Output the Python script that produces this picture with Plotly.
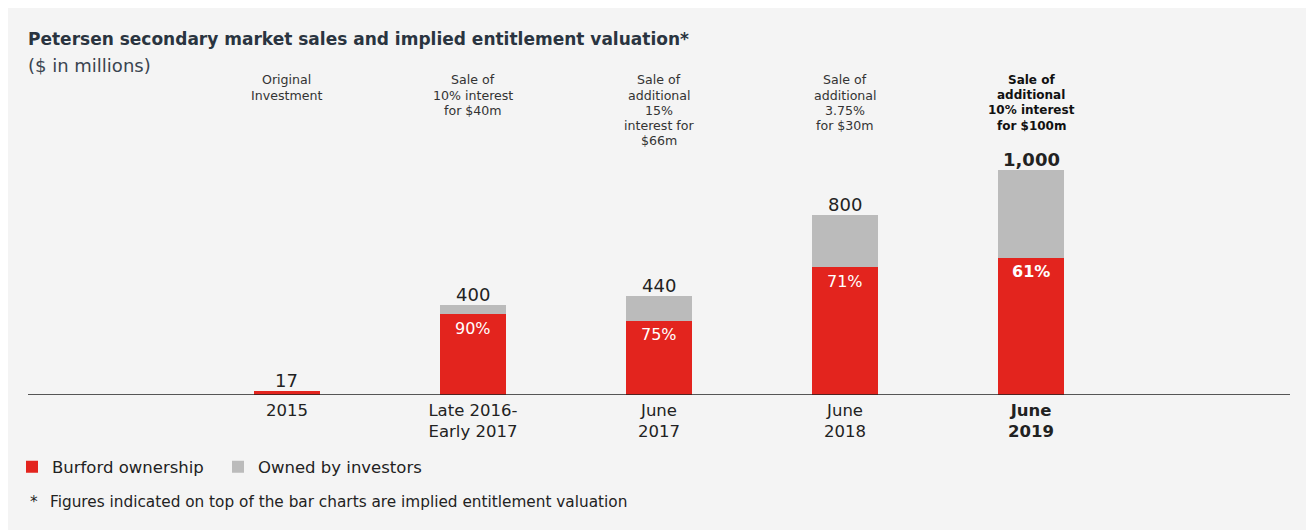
import plotly.graph_objects as go

categories = ["2015", "Late 2016-<br>Early 2017", "June<br>2017", "June<br>2018", "<b>June<br>2019</b>"]
totals = [17, 400, 440, 800, 1000]
burford_pct = [100, 90, 75, 71, 61]
total_labels = ["17", "400", "440", "800", "<b>1,000</b>"]
pct_labels = ["", "90%", "75%", "71%", "<b>61%</b>"]
top_notes = [
    ["Original", "Investment"],
    ["Sale of", "10% interest", "for $40m"],
    ["Sale of", "additional", "15%", "interest for", "$66m"],
    ["Sale of", "additional", "3.75%", "for $30m"],
    ["Sale of", "additional", "10% interest", "for $100m"],
]
note_bold = [False, False, False, False, True]

burford = [t * p / 100 for t, p in zip(totals, burford_pct)]
investors = [t - b for t, b in zip(totals, burford)]
xpos = list(range(len(categories)))

RED = "#e3241e"
GREY = "#bbbbbb"
BG = "#f4f4f4"
FONT = "DejaVu Sans"
TXT = "#222222"

# page body has an 8px margin; figure coords = screenshot coords - 8
W, H = 1306, 522
OFF = 8
PL, PR, PT, PB = 28, 1290, 60, 395  # plot area in screenshot pixels

def px_x(px):
    return (px - PL) / (PR - PL)

def px_y(py):
    return (PB - py) / (PB - PT)

def cx(px):
    return (px - OFF) / W

def cy(py):
    return 1 - (py - OFF) / H

fig = go.Figure()
fig.add_trace(go.Bar(x=xpos, y=burford, name="Burford ownership", marker_color=RED,
                     width=0.355, marker_line_width=0))
fig.add_trace(go.Bar(x=xpos, y=investors, name="Owned by investors", marker_color=GREY,
                     width=0.355, marker_line_width=0))

ann = []
for i in xpos:
    ann.append(dict(x=i, y=totals[i], xref="x", yref="y", text=total_labels[i],
                    showarrow=False, yanchor="middle", yshift=11,
                    font=dict(size=18, color=TXT, family=FONT)))
    if pct_labels[i]:
        ann.append(dict(x=i, y=burford[i], xref="x", yref="y", text=pct_labels[i],
                        showarrow=False, yanchor="middle", yshift=-14,
                        font=dict(size=16, color="white", family=FONT)))
    for k, line in enumerate(top_notes[i]):
        txt = f"<b>{line}</b>" if note_bold[i] else line
        ann.append(dict(x=i, y=px_y(80 + 15.2 * k), xref="x", yref="paper", text=txt,
                        showarrow=False, yanchor="middle",
                        font=dict(size=12 if note_bold[i] else 12.6,
                                  color="#111111" if note_bold[i] else "#333333", family=FONT)))

ann.append(dict(x=px_x(28), y=px_y(66), xref="paper", yref="paper", text="($ in millions)",
                showarrow=False, xanchor="left", yanchor="middle", xshift=-2,
                font=dict(size=18, color="#3a4450", family=FONT)))
ann.append(dict(x=px_x(28), y=px_y(502), xref="paper", yref="paper", text="*",
                showarrow=False, xanchor="left", yanchor="middle",
                font=dict(size=15.3, color=TXT, family=FONT)))
ann.append(dict(x=px_x(48), y=px_y(502), xref="paper", yref="paper",
                text="Figures indicated on top of the bar charts are implied entitlement valuation",
                showarrow=False, xanchor="left", yanchor="middle",
                font=dict(size=15.3, color=TXT, family=FONT)))

fig.update_layout(
    width=W, height=H,
    barmode="stack",
    paper_bgcolor=BG, plot_bgcolor=BG,
    margin=dict(l=PL - OFF, r=W - (PR - OFF), t=PT - OFF, b=H - (PB - OFF)),
    title=dict(text="<b>Petersen secondary market sales and implied entitlement valuation*</b>",
               x=cx(28), xanchor="left", y=cy(39), yanchor="middle",
               font=dict(size=17, color="#2a3440", family=FONT)),
    xaxis=dict(range=[-1.392, 5.392], tickvals=xpos, ticktext=categories,
               showgrid=False, zeroline=False, showline=False, ticks="",
               ticklabelstandoff=3, automargin=False,
               tickfont=dict(size=16.5, color=TXT, family=FONT), fixedrange=True),
    yaxis=dict(range=[0, (PB - PT) / 0.225], visible=False, showgrid=False, zeroline=False,
               automargin=False, fixedrange=True),
    showlegend=True,
    legend=dict(orientation="h", xref="container", yref="container",
                x=cx(12), xanchor="left", y=cy(467), yanchor="middle",
                entrywidth=161,
                font=dict(size=16.5, color=TXT, family=FONT), bgcolor="rgba(0,0,0,0)",
                traceorder="normal"),
    annotations=ann,
    shapes=[dict(type="line", xref="paper", yref="y", x0=0, x1=1, y0=0, y1=0,
                 line=dict(color="#222222", width=1.3))],
    bargap=0,
)

fig.write_html("out.html")
